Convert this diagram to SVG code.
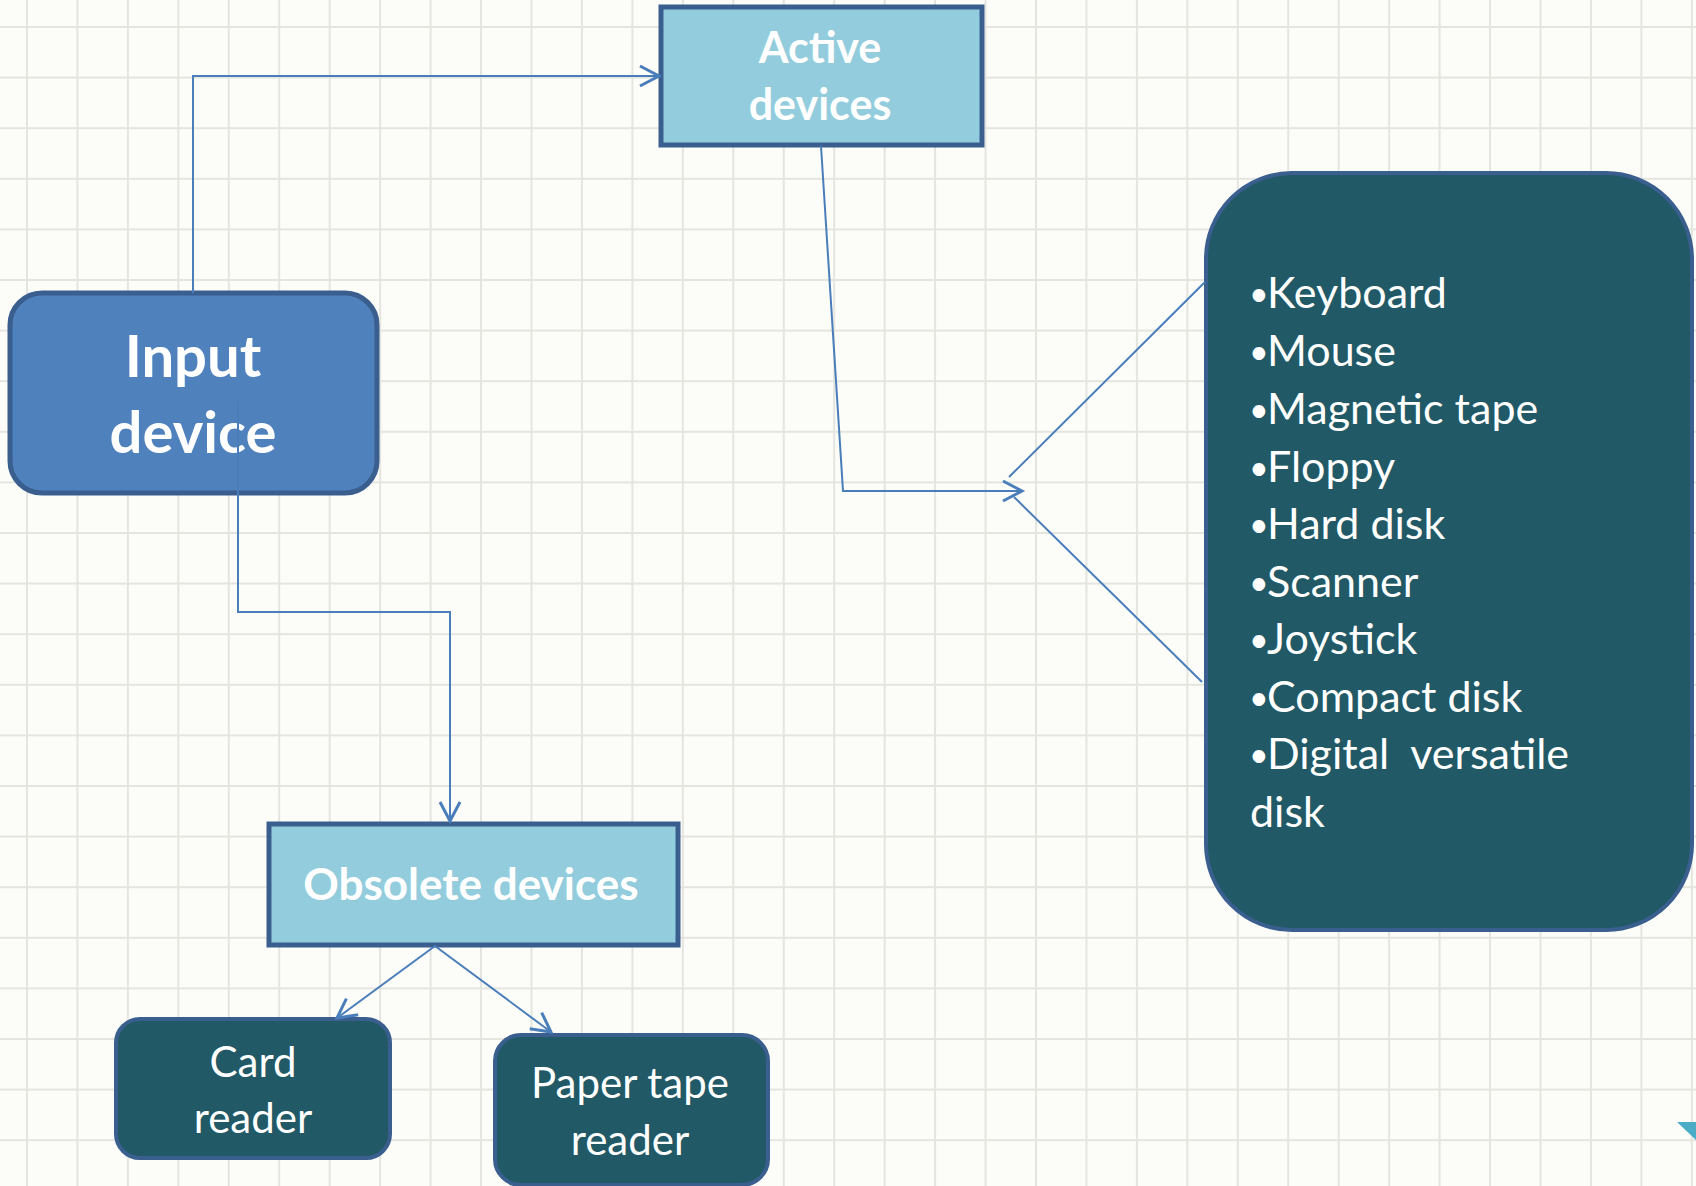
<svg xmlns="http://www.w3.org/2000/svg" width="1696" height="1186" viewBox="0 0 1696 1186">
  <defs>
    <pattern id="grid" patternUnits="userSpaceOnUse" x="26" y="26" width="50.45" height="50.6">
      <path d="M1 0 V50.6 M0 1 H50.45" fill="none" stroke="#e5e5e0" stroke-width="2"/>
    </pattern>
    <marker id="arr" markerUnits="userSpaceOnUse" markerWidth="26" markerHeight="26" refX="21" refY="12" orient="auto">
      <path d="M2,2 L21,12 L2,22" fill="none" stroke="#4a7ebb" stroke-width="3"/>
    </marker>
    <style>
      .lbl { font-family: Lato, "Open Sans", "Liberation Sans", sans-serif; fill: #ffffff; }
      .b { font-weight: bold; }
      .light { fill: #93cddd; stroke: #3a5f8f; stroke-width: 5; }
      .dark { fill: #215967; stroke: #3a5f8f; stroke-width: 4; }
      .conn { fill: none; stroke: #4a7ebb; stroke-width: 2; }
      .bul { font-size: 34px; }
    </style>
  </defs>
  <rect x="0" y="0" width="1696" height="1186" fill="#fcfcf8"/>
  <rect x="0" y="0" width="1696" height="1186" fill="url(#grid)"/>

  <g id="input-device">
    <rect x="10" y="293" width="367" height="200" rx="32" fill="#4f81bd" stroke="#3a5f8f" stroke-width="5"/>
    <text class="lbl b" x="193" y="377" font-size="58" text-anchor="middle">Input</text>
    <text class="lbl b" x="193" y="453" font-size="58" text-anchor="middle">device</text>
  </g>

  <g id="active-devices">
    <rect class="light" x="661" y="7" width="321" height="138"/>
    <text class="lbl b" x="820" y="63" font-size="43" text-anchor="middle">Active</text>
    <text class="lbl b" x="820" y="120" font-size="43" text-anchor="middle">devices</text>
  </g>

  <g id="device-list">
    <rect class="dark" x="1206" y="173" width="486" height="757" rx="86"/>
    <g class="lbl" font-size="43">
      <text x="1249" y="306"><tspan class="bul">•</tspan><tspan x="1267" y="308">Keyboard</tspan></text>
      <text x="1249" y="364"><tspan class="bul">•</tspan><tspan x="1267" y="366">Mouse</tspan></text>
      <text x="1249" y="422"><tspan class="bul">•</tspan><tspan x="1267" y="424">Magnetic tape</tspan></text>
      <text x="1249" y="480"><tspan class="bul">•</tspan><tspan x="1267" y="482">Floppy</tspan></text>
      <text x="1249" y="537"><tspan class="bul">•</tspan><tspan x="1267" y="539">Hard disk</tspan></text>
      <text x="1249" y="595"><tspan class="bul">•</tspan><tspan x="1267" y="597">Scanner</tspan></text>
      <text x="1249" y="652"><tspan class="bul">•</tspan><tspan x="1267" y="654">Joystick</tspan></text>
      <text x="1249" y="710"><tspan class="bul">•</tspan><tspan x="1267" y="712">Compact disk</tspan></text>
      <text x="1249" y="767" xml:space="preserve"><tspan class="bul">•</tspan><tspan x="1267" y="769">Digital  versatile</tspan></text>
      <text x="1250" y="827">disk</text>
    </g>
  </g>

  <g id="obsolete-devices">
    <rect class="light" x="269" y="824" width="409" height="121"/>
    <text class="lbl b" x="471" y="900" font-size="44" text-anchor="middle">Obsolete devices</text>
  </g>

  <g id="card-reader">
    <rect class="dark" x="116" y="1019" width="274" height="139" rx="24"/>
    <text class="lbl" x="253" y="1077" font-size="42" text-anchor="middle">Card</text>
    <text class="lbl" x="253" y="1133" font-size="42" text-anchor="middle">reader</text>
  </g>

  <g id="paper-tape-reader">
    <rect class="dark" x="495" y="1035" width="273" height="150" rx="26"/>
    <text class="lbl" x="630" y="1098" font-size="42" text-anchor="middle">Paper tape</text>
    <text class="lbl" x="630" y="1155" font-size="42" text-anchor="middle">reader</text>
  </g>

  <g id="connectors">
    <path class="conn" d="M193,293 V76 H659" marker-end="url(#arr)"/>
    <path class="conn" d="M238,402 V612 H450 V821" marker-end="url(#arr)"/>
    <path class="conn" d="M821,146 L843,491 H1022" marker-end="url(#arr)"/>
    <path class="conn" d="M1205,282 L1009,477"/>
    <path class="conn" d="M1014,497 L1202,682"/>
    <path class="conn" d="M435,946 L337,1018" marker-end="url(#arr)"/>
    <path class="conn" d="M435,946 L551,1032" marker-end="url(#arr)"/>
  </g>

  <polygon points="1677,1122 1696,1122 1696,1140" fill="#4bacc6"/>
</svg>
